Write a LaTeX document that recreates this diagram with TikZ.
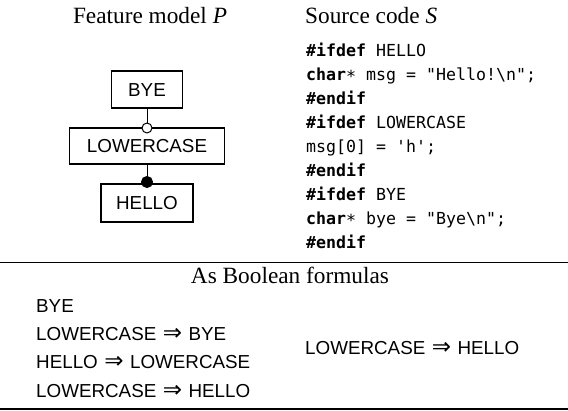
\documentclass[tikz,border=0pt]{standalone}
\usepackage{fontspec}
\setmainfont{Liberation Serif}
\setmonofont{DejaVu Sans Mono}
\newfontfamily\sansf{Liberation Sans}
\newfontfamily\arrowf{DejaVu Sans}
\newcommand\serifsz{\rmfamily\fontsize{23.3}{27}\selectfont}
\newcommand\sanssz{\sansf\fontsize{18.8}{22}\selectfont}
\newcommand\codesz{\ttfamily\fontsize{16.6}{24}\selectfont}
\newcommand\impl{\hspace{6.5pt}{\arrowf\fontsize{23}{23}\selectfont ⇒}\hspace{6.5pt}}
\newcommand\cstar{\raisebox{-0.3ex}{*}}
\newcommand\kw[1]{{\bfseries #1}}
\begin{document}
\begin{tikzpicture}[x=1pt,y=-1pt,
  featbox/.style={draw, line width=1.1pt, inner sep=0pt, font=\sanssz, text height=13.5pt, text depth=0pt},
  codeline/.style={font=\codesz, inner sep=0pt, anchor=base west},
  title/.style={font=\serifsz, inner sep=0pt},
  formula/.style={font=\sanssz, inner sep=0pt, anchor=base west},
  conn/.style={line width=1pt},
  rule/.style={line width=1pt}]
\useasboundingbox (0,0) rectangle (568,410);

% titles
\node[title, anchor=base] (tp) at (150,23) {Feature model \textit{P}};
\node[title, anchor=base west] (ts) at (305,23) {Source code \textit{S}};

% feature model
\node[featbox, minimum width=71pt, minimum height=37pt] (bye) at (147,89.5) {BYE};
\node[featbox, minimum width=155pt, minimum height=36pt] (lower) at (147,146) {LOWERCASE};
\node[featbox, minimum width=92pt, minimum height=38pt] (hello) at (147,203) {HELLO};
\node[circle, draw, fill=white, line width=1pt, inner sep=0pt, minimum size=10pt] (oc) at (147,128) {};
\node[circle, draw, fill=black, line width=1pt, inner sep=0pt, minimum size=11pt] (fc) at (147,182) {};
\draw[conn] (bye.south) -- (oc.north);
\draw[conn] (lower.south) -- (fc.north);

% source code
\node[codeline] (c1) at (306,56) {\kw{\#ifdef} HELLO};
\node[codeline] (c2) at (306,80) {\kw{char}\cstar{} msg = "Hello!\textbackslash n";};
\node[codeline] (c3) at (306,104) {\kw{\#endif}};
\node[codeline] (c4) at (306,128) {\kw{\#ifdef} LOWERCASE};
\node[codeline] (c5) at (306,152) {msg[0] = 'h';};
\node[codeline] (c6) at (306,176) {\kw{\#endif}};
\node[codeline] (c7) at (306,200) {\kw{\#ifdef} BYE};
\node[codeline] (c8) at (306,224) {\kw{char}\cstar{} bye = "Bye\textbackslash n";};
\node[codeline] (c9) at (306,248) {\kw{\#endif}};

% rules
\coordinate (r1a) at (0,262);
\coordinate (r1b) at (568,262);
\coordinate (r2a) at (0,408.8);
\coordinate (r2b) at (568,408.8);
\draw[rule] (r1a) -- (r1b);
\draw[rule, line width=1.6pt] (r2a) -- (r2b);

% boolean formulas
\node[title, anchor=base] (tb) at (290,283) {As Boolean formulas};
\node[formula] (f1) at (36,312) {BYE};
\node[formula] (f2) at (36,340) {LOWERCASE\impl BYE};
\node[formula] (f3) at (36,368) {HELLO\impl LOWERCASE};
\node[formula] (f4) at (36,397) {LOWERCASE\impl HELLO};
\node[formula] (g1) at (305,354.5) {LOWERCASE\impl HELLO};
\end{tikzpicture}
\end{document}
